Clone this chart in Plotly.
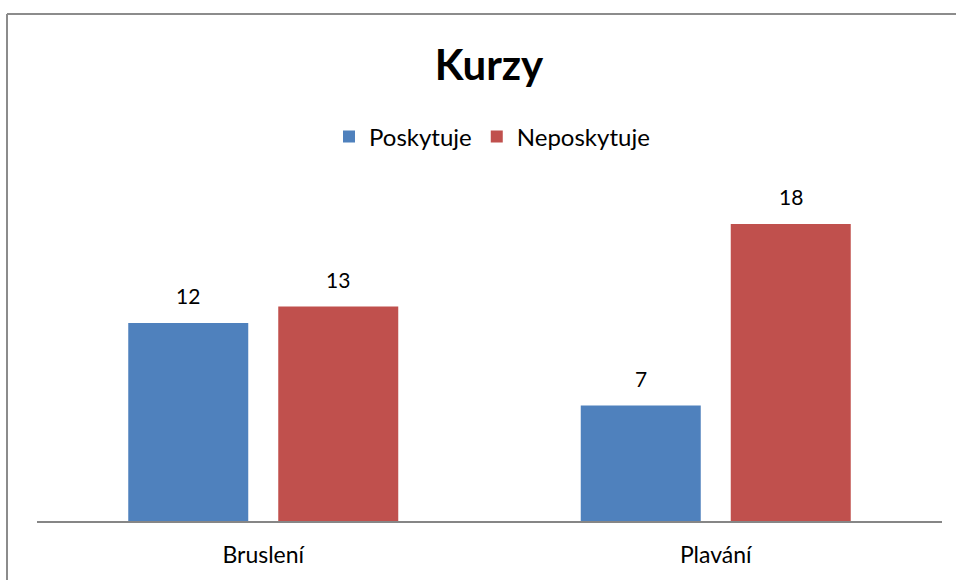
import plotly.graph_objects as go

categories = ["Bruslení", "Plavání"]
poskytuje = [12, 7]
neposkytuje = [13, 18]
series_names = ["Poskytuje", "Neposkytuje"]
title_text = "Kurzy"

FONT = "Lato"
W, H = 956, 580
ML, MR, MT, MB = 37, 14, 191, 59
PW, PH = W - ML - MR, H - MT - MB
BARGAP = 0.337
SLOT_PX = PW / len(categories) * (1 - BARGAP) / 2

def px_x(x):
    return (x - ML) / PW

def px_y(y):
    return (H - MB - y) / PH

series = [(series_names[0], poskytuje, "#4F81BD"), (series_names[1], neposkytuje, "#C0504D")]

fig = go.Figure()
for name, vals, col in series:
    fig.add_trace(go.Bar(x=categories, y=vals, name=name,
                         marker=dict(color=col, line=dict(width=0))))

# data labels
for i, (name, vals, col) in enumerate(series):
    xs = (i - (len(series) - 1) / 2) * SLOT_PX
    for c, v in zip(categories, vals):
        fig.add_annotation(x=c, y=v, text=str(v), showarrow=False, xshift=xs,
                           yanchor="bottom", yshift=13,
                           font=dict(size=21, family=FONT, color="#000000"))

fig.update_layout(
    width=W, height=H,
    margin=dict(l=ML, r=MR, t=MT, b=MB, autoexpand=False),
    paper_bgcolor="white", plot_bgcolor="white",
    font=dict(family=FONT, size=21, color="#000000"),
    title=dict(text="<b>" + title_text + "</b>", x=px_x(489), xref="paper", xanchor="center",
               y=1 - 65 / H, yref="container", yanchor="middle",
               font=dict(size=42, family=FONT, color="#000000")),
    barmode="group", bargap=BARGAP, bargroupgap=0.2,
    legend=dict(orientation="h", x=px_x(492), xanchor="center", y=px_y(137), yanchor="middle",
                font=dict(size=24, family=FONT), itemwidth=30, traceorder="normal",
                bgcolor="rgba(0,0,0,0)"),
    showlegend=True,
)
fig.update_xaxes(showline=True, linecolor="#868686", linewidth=2, ticks="",
                 showgrid=False, ticklabelstandoff=12, automargin=False,
                 tickfont=dict(size=23, family=FONT, color="#000000"))
fig.update_yaxes(range=[0, 20], visible=False, showgrid=False, zeroline=False, automargin=False)

# chart border (top and left)
fig.add_shape(type="line", xref="paper", yref="paper",
              x0=px_x(7), x1=px_x(956), y0=px_y(14), y1=px_y(14),
              line=dict(color="#8C8C8C", width=2))
fig.add_shape(type="line", xref="paper", yref="paper",
              x0=px_x(7), x1=px_x(7), y0=px_y(14), y1=px_y(580),
              line=dict(color="#8C8C8C", width=2))

fig.write_html("out.html", config={"displayModeBar": False},
               post_script="document.body.style.margin='0px';document.body.style.overflow='hidden';")
